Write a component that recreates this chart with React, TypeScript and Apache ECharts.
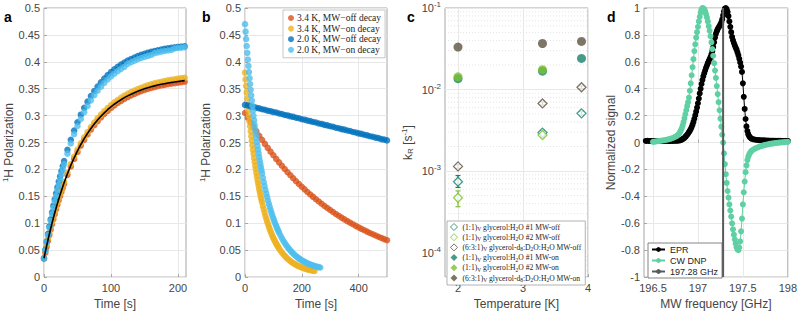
import React, { useEffect, useRef } from "react";
import * as echarts from "echarts";

const FONT = "'Liberation Sans', Arial, Helvetica, sans-serif";
const SERIF = "'Liberation Serif', 'Times New Roman', serif";
const TXT = "#454545";
const BOX = "#a6a6a6";
const GRIDC = "#e8e8e8";

const C_ORANGE = "#D95319";
const C_YELLOW = "#EDB120";
const C_BLUE = "#0072BD";
const C_LBLUE = "#4DBEEE";
const C_TEAL = "#17826c";
const C_LIME = "#7cc12f";
const C_BROWN = "#5d533e";
const C_DNP = "#5fd0a4";

// ---------- panel a: buildup ----------
const aTimes = [0, 2, 4, 6, 8, 10, 12, 14, 16, 18, 20, 22, 24, 26, 28, 30, 35, 40, 45, 50, 55, 60, 65, 70, 75, 80, 85, 90, 95, 100, 105, 110, 115, 120, 125, 130, 135, 140, 145, 150, 155, 160, 165, 170, 175, 180, 185, 190, 195, 200, 205, 210];
const aOff34 = [0.034, 0.0452, 0.0565, 0.0675, 0.0781, 0.0884, 0.0983, 0.1078, 0.117, 0.1259, 0.1345, 0.1428, 0.1507, 0.1584, 0.1659, 0.1731, 0.19, 0.2054, 0.2196, 0.2325, 0.2443, 0.255, 0.2649, 0.274, 0.2822, 0.2898, 0.2967, 0.303, 0.3088, 0.3141, 0.319, 0.3234, 0.3274, 0.3312, 0.3345, 0.3376, 0.3404, 0.343, 0.3455, 0.3476, 0.3496, 0.3514, 0.3531, 0.3546, 0.356, 0.3572, 0.3584, 0.3594, 0.3604, 0.3613, 0.3621, 0.3629];
const aOn34 = [0.036, 0.0489, 0.0603, 0.0713, 0.082, 0.0923, 0.1022, 0.1118, 0.121, 0.1299, 0.1385, 0.1468, 0.1548, 0.1625, 0.17, 0.1772, 0.1944, 0.2098, 0.224, 0.2369, 0.2488, 0.2597, 0.2697, 0.2789, 0.2872, 0.2949, 0.3019, 0.3083, 0.3142, 0.3196, 0.3246, 0.3291, 0.3332, 0.3371, 0.3405, 0.3437, 0.3466, 0.3493, 0.3519, 0.3541, 0.3562, 0.3581, 0.3599, 0.3615, 0.363, 0.3643, 0.3656, 0.3667, 0.3677, 0.3687, 0.3696, 0.3704];
const aOff20 = [0.035, 0.0507, 0.0658, 0.0802, 0.0942, 0.1075, 0.1204, 0.1327, 0.1445, 0.1559, 0.1669, 0.1774, 0.1874, 0.1972, 0.2065, 0.2155, 0.2364, 0.2553, 0.2724, 0.2878, 0.3018, 0.3145, 0.326, 0.3364, 0.3458, 0.3542, 0.3619, 0.3689, 0.3752, 0.3809, 0.386, 0.3907, 0.3949, 0.3987, 0.4022, 0.4053, 0.4081, 0.4107, 0.413, 0.4151, 0.417, 0.4187, 0.4202, 0.4216, 0.4229, 0.4241, 0.4251, 0.426, 0.4269, 0.4277, 0.4284, 0.429];
const aOn20 = [0.035, 0.0497, 0.0648, 0.0782, 0.0922, 0.1045, 0.1174, 0.1287, 0.1405, 0.1509, 0.1619, 0.1714, 0.1814, 0.1912, 0.2005, 0.2095, 0.2294, 0.2483, 0.2654, 0.2808, 0.2938, 0.3065, 0.318, 0.3284, 0.3378, 0.3462, 0.3539, 0.3609, 0.3672, 0.3729, 0.378, 0.3827, 0.3869, 0.3907, 0.3962, 0.3993, 0.4021, 0.4047, 0.407, 0.4091, 0.411, 0.4127, 0.4162, 0.4176, 0.4189, 0.4201, 0.4211, 0.422, 0.4249, 0.4257, 0.4264, 0.427];
const aFit34 = [0.035, 0.0469, 0.0583, 0.0693, 0.08, 0.0903, 0.1002, 0.1098, 0.119, 0.1279, 0.1365, 0.1448, 0.1528, 0.1605, 0.168, 0.1752, 0.1921, 0.2075, 0.2217, 0.2346, 0.2464, 0.2572, 0.2671, 0.2762, 0.2844, 0.292, 0.2989, 0.3052, 0.311, 0.3163, 0.3212, 0.3256, 0.3296, 0.3334, 0.3367, 0.3398, 0.3426, 0.3452, 0.3477, 0.3498, 0.3518, 0.3536, 0.3553, 0.3568, 0.3582, 0.3594, 0.3606, 0.3616, 0.3626, 0.3635, 0.3643, 0.3651];

// ---------- panel b: decay ----------
const bOnTimes = [0, 2, 4, 6, 8, 10, 12, 14, 16, 18, 20, 22, 24, 26, 28, 30, 32, 34, 36, 38, 40, 42, 44, 46, 48, 50, 52, 54, 56, 58, 60, 63, 66, 69, 72, 75, 78, 81, 84, 87, 90, 93, 96, 99, 102, 105, 108, 111, 114, 117, 120, 125, 130, 135, 140, 145, 150, 155, 160, 165, 170, 175, 180, 185, 190, 195, 200, 205, 210, 215, 220, 225, 230, 235, 240, 245, 250, 255, 260, 265];
const bOn34 = [0.38, 0.3673, 0.3551, 0.3432, 0.3318, 0.3208, 0.3101, 0.2998, 0.2898, 0.2802, 0.2709, 0.2619, 0.2533, 0.2449, 0.2368, 0.229, 0.2214, 0.2141, 0.2071, 0.2002, 0.1936, 0.1873, 0.1811, 0.1752, 0.1695, 0.1639, 0.1586, 0.1534, 0.1484, 0.1436, 0.1389, 0.1322, 0.1259, 0.1198, 0.1141, 0.1086, 0.1035, 0.0985, 0.0939, 0.0894, 0.0853, 0.0812, 0.0774, 0.0738, 0.0704, 0.0672, 0.0641, 0.0612, 0.0584, 0.0557, 0.0532, 0.0493, 0.0458, 0.0425, 0.0395, 0.0367, 0.0342, 0.0318, 0.0297, 0.0277, 0.0259, 0.0243, 0.0228, 0.0214, 0.0201, 0.019, 0.0179, 0.0169, 0.016, 0.0152, 0.0144, 0.0137, 0.0131, 0.0125, 0.012, 0.0115];
const bOn20 = [0.47, 0.4561, 0.4425, 0.4294, 0.4167, 0.4044, 0.3924, 0.3809, 0.3696, 0.3587, 0.3481, 0.3379, 0.328, 0.3183, 0.309, 0.2999, 0.2912, 0.2826, 0.2744, 0.2664, 0.2586, 0.2511, 0.2438, 0.2367, 0.2298, 0.2232, 0.2167, 0.2104, 0.2044, 0.1985, 0.1928, 0.1845, 0.1767, 0.1691, 0.1619, 0.1551, 0.1486, 0.1423, 0.1363, 0.1306, 0.1252, 0.12, 0.115, 0.1103, 0.1058, 0.1014, 0.0973, 0.0934, 0.0896, 0.086, 0.0826, 0.0773, 0.0722, 0.0676, 0.0634, 0.0594, 0.0558, 0.0524, 0.0492, 0.0463, 0.0436, 0.0411, 0.0388, 0.0367, 0.0347, 0.0329, 0.0312, 0.0296, 0.0282, 0.0268, 0.0256, 0.0244, 0.0234, 0.0224, 0.0215, 0.0206, 0.0198, 0.0191, 0.0184, 0.0178];
const bOffTimes = [0, 10, 20, 30, 40, 50, 60, 70, 80, 90, 100, 110, 120, 130, 140, 150, 160, 170, 180, 190, 200, 210, 220, 230, 240, 250, 260, 270, 280, 290, 300, 310, 320, 330, 340, 350, 360, 370, 380, 390, 400, 410, 420, 430, 440, 450, 460, 470, 480, 490, 500];
const bOff34 = [0.305, 0.296, 0.2873, 0.2789, 0.2707, 0.2627, 0.255, 0.2475, 0.2402, 0.2331, 0.2263, 0.2196, 0.2132, 0.2069, 0.2008, 0.1949, 0.1892, 0.1836, 0.1782, 0.173, 0.1679, 0.163, 0.1582, 0.1535, 0.149, 0.1446, 0.1404, 0.1362, 0.1322, 0.1283, 0.1246, 0.1209, 0.1173, 0.1139, 0.1105, 0.1073, 0.1041, 0.1011, 0.0981, 0.0952, 0.0924, 0.0897, 0.0871, 0.0845, 0.082, 0.0796, 0.0773, 0.075, 0.0728, 0.0706, 0.0686];
const bOff20 = [0.32, 0.319, 0.3172, 0.3162, 0.3145, 0.3136, 0.3119, 0.311, 0.3092, 0.3083, 0.3066, 0.3058, 0.304, 0.303, 0.3013, 0.3004, 0.2987, 0.2978, 0.296, 0.2951, 0.2934, 0.2925, 0.2908, 0.2898, 0.2881, 0.2872, 0.2855, 0.2846, 0.2828, 0.2819, 0.2802, 0.2793, 0.2776, 0.2766, 0.2749, 0.274, 0.2723, 0.2714, 0.2696, 0.2687, 0.267, 0.2661, 0.2644, 0.2634, 0.2617, 0.2608, 0.2591, 0.2582, 0.2564, 0.2555, 0.254];
const B_NAMES = ["3.4 K, MW\u2212off decay", "3.4 K, MW\u2212on decay", "2.0 K, MW\u2212off decay", "2.0 K, MW\u2212on decay"];

// ---------- panel c: rates ----------
const cTemps = [2.0, 3.3, 3.9];
const cOff1 = [7.4e-4, 2.96e-3, 5.1e-3];
const cOff1Lo = [6.3e-4, 2.78e-3, 4.85e-3];
const cOff1Hi = [8.8e-4, 3.15e-3, 5.4e-3];
const cOff2 = [4.7e-4, 2.77e-3];
const cOff2Lo = [3.65e-4, 2.6e-3];
const cOff2Hi = [5.7e-4, 2.95e-3];
const cOff3 = [1.14e-3, 6.75e-3, 1.066e-2];
const cOff3Lo = [1.08e-3, 6.45e-3, 1.02e-2];
const cOff3Hi = [1.2e-3, 7.05e-3, 1.11e-2];
const cOn1 = [1.36e-2, 1.68e-2, 2.41e-2];
const cOn2 = [1.43e-2, 1.75e-2];
const cOn3 = [3.32e-2, 3.67e-2, 3.89e-2];
const cMinorGrid = [6e-5, 7e-5, 8e-5, 9e-5, 2e-4, 3e-4, 4e-4, 5e-4, 6e-4, 7e-4, 8e-4, 9e-4, 2e-3, 3e-3, 4e-3, 5e-3, 6e-3, 7e-3, 8e-3, 9e-3, 2e-2, 3e-2, 4e-2, 5e-2, 6e-2, 7e-2, 8e-2, 9e-2];
const C_NAMES = [
  "(1:1)V glycerol:H2O #1 MW-off",
  "(1:1)V glycerol:H2O #2 MW-off",
  "(6:3:1)V glycerol-d8:D2O:H2O MW-off",
  "(1:1)V glycerol:H2O #1 MW-on",
  "(1:1)V glycerol:H2O #2 MW-on",
  "(6:3:1)V glycerol-d8:D2O:H2O MW-on",
];
const C_RICH = [
  "(1:1){s|V} glycerol:H{s|2}O #1 MW-off",
  "(1:1){s|V} glycerol:H{s|2}O #2 MW-off",
  "(6:3:1){s|V} glycerol-d{s|8}:D{s|2}O:H{s|2}O MW-off",
  "(1:1){s|V} glycerol:H{s|2}O #1 MW-on",
  "(1:1){s|V} glycerol:H{s|2}O #2 MW-on",
  "(6:3:1){s|V} glycerol-d{s|8}:D{s|2}O:H{s|2}O MW-on",
];

// ---------- panel d: spectra ----------
const dEpr = [
  [196.42, 0.012], [196.44, 0.013], [196.46, 0.012], [196.48, 0.011], [196.5, 0.012], [196.52, 0.012], [196.54, 0.011], [196.56, 0.012], [196.58, 0.012], [196.6, 0.011], [196.62, 0.012], [196.64, 0.012], [196.66, 0.012], [196.68, 0.011], [196.7, 0.012], [196.72, 0.012], [196.74, 0.013], [196.76, 0.013], [196.78, 0.014],
  [196.8, 0.016], [196.81, 0.019], [196.82, 0.022], [196.83, 0.026], [196.84, 0.03], [196.85, 0.035], [196.86, 0.042], [196.87, 0.05], [196.88, 0.058], [196.89, 0.067], [196.9, 0.077], [196.91, 0.088], [196.92, 0.1], [196.93, 0.115], [196.94, 0.133], [196.95, 0.153], [196.96, 0.177], [196.97, 0.203], [196.98, 0.23], [196.99, 0.26],
  [197.0, 0.292], [197.01, 0.327], [197.02, 0.365], [197.03, 0.4], [197.04, 0.435], [197.05, 0.465], [197.06, 0.492], [197.07, 0.515], [197.08, 0.535], [197.09, 0.555], [197.1, 0.572], [197.11, 0.59], [197.12, 0.605], [197.13, 0.62], [197.14, 0.635], [197.15, 0.655], [197.16, 0.68], [197.17, 0.71], [197.18, 0.745], [197.19, 0.78],
  [197.2, 0.808], [197.21, 0.828], [197.22, 0.843], [197.23, 0.855], [197.24, 0.866], [197.25, 0.878], [197.26, 0.893], [197.27, 0.915], [197.28, 0.945], [197.29, 0.975], [197.3, 0.995], [197.31, 1.0], [197.32, 0.99], [197.33, 0.97], [197.34, 0.94], [197.35, 0.9], [197.36, 0.86], [197.37, 0.82], [197.38, 0.785], [197.39, 0.76],
  [197.4, 0.74], [197.41, 0.722], [197.42, 0.705], [197.43, 0.69], [197.44, 0.67], [197.45, 0.648], [197.46, 0.622], [197.47, 0.595], [197.48, 0.565], [197.49, 0.525], [197.5, 0.44], [197.51, 0.34], [197.52, 0.25], [197.53, 0.175], [197.54, 0.12], [197.55, 0.085], [197.56, 0.062], [197.57, 0.047], [197.58, 0.038], [197.59, 0.032], [197.6, 0.028],
  [197.62, 0.024], [197.64, 0.021], [197.66, 0.019], [197.68, 0.018], [197.7, 0.017], [197.72, 0.016], [197.74, 0.016], [197.76, 0.015], [197.78, 0.015], [197.8, 0.014], [197.82, 0.014], [197.84, 0.014], [197.86, 0.013], [197.88, 0.013], [197.9, 0.013], [197.92, 0.013], [197.94, 0.012], [197.96, 0.012], [197.98, 0.012], [198.0, 0.012],
];
const dDnp = [
  [196.5, 0.005], [196.52, 0.007], [196.54, 0.009], [196.56, 0.011], [196.58, 0.013], [196.6, 0.015], [196.62, 0.017], [196.64, 0.019], [196.66, 0.022], [196.68, 0.025], [196.7, 0.029], [196.72, 0.034], [196.74, 0.04], [196.76, 0.047],
  [196.77, 0.052], [196.78, 0.058], [196.79, 0.066], [196.8, 0.077], [196.81, 0.09], [196.82, 0.106], [196.83, 0.127], [196.84, 0.152], [196.85, 0.18], [196.86, 0.21], [196.87, 0.24], [196.88, 0.27], [196.89, 0.3], [196.9, 0.335], [196.91, 0.385], [196.92, 0.44], [196.93, 0.5], [196.94, 0.56], [196.95, 0.62], [196.96, 0.68], [196.97, 0.73], [196.98, 0.78], [196.99, 0.82],
  [197.0, 0.86], [197.01, 0.9], [197.02, 0.935], [197.03, 0.965], [197.04, 0.988], [197.05, 1.0], [197.06, 0.998], [197.07, 0.99], [197.08, 0.975], [197.09, 0.955], [197.1, 0.93], [197.11, 0.9], [197.12, 0.865], [197.13, 0.83], [197.14, 0.79], [197.15, 0.745], [197.16, 0.695], [197.17, 0.645], [197.18, 0.59], [197.19, 0.535],
  [197.2, 0.48], [197.21, 0.42], [197.22, 0.36], [197.23, 0.3], [197.24, 0.24], [197.25, 0.178], [197.26, 0.118], [197.27, 0.058], [197.28, 0.0], [197.29, -0.08], [197.3, -0.16], [197.31, -0.235], [197.32, -0.3], [197.33, -0.36], [197.34, -0.41], [197.35, -0.46], [197.36, -0.505], [197.37, -0.55], [197.38, -0.6], [197.39, -0.645],
  [197.4, -0.685], [197.41, -0.72], [197.42, -0.752], [197.43, -0.778], [197.44, -0.795], [197.45, -0.8], [197.46, -0.78], [197.47, -0.735], [197.48, -0.66], [197.49, -0.565], [197.5, -0.46], [197.51, -0.37], [197.52, -0.29], [197.53, -0.22], [197.54, -0.17], [197.55, -0.13], [197.56, -0.105], [197.57, -0.088], [197.58, -0.076], [197.59, -0.067], [197.6, -0.06],
  [197.62, -0.05], [197.64, -0.043], [197.66, -0.037], [197.68, -0.032], [197.7, -0.027], [197.72, -0.023], [197.74, -0.019], [197.76, -0.016], [197.78, -0.013], [197.8, -0.01], [197.82, -0.008], [197.84, -0.006], [197.86, -0.004], [197.88, -0.002], [197.9, 0.0], [197.92, 0.001], [197.94, 0.002], [197.96, 0.003], [197.98, 0.004], [198.0, 0.005],
];
const dMarkerFreq = 197.28;
const D_NAMES = ["EPR", "CW DNP", "197.28 GHz"];

const zip = (xs: number[], ys: number[]) => ys.map((y, i) => [xs[i], y]);

const richSup = { fontSize: 8, fontFamily: FONT, fontWeight: "normal", color: TXT, padding: [0, 0, 7, 0] };
const richSub = { fontSize: 8, fontFamily: FONT, fontWeight: "normal", color: TXT, padding: [6, 0, 0, 0] };
const NAME_STYLE = { fontFamily: FONT, fontSize: 12, fontWeight: "normal", color: TXT, rich: { sup: richSup, sub: richSub } };

function xAx(gridIndex: number, min: number, max: number, ticks: number[], name: string) {
  return {
    type: "value", gridIndex, min, max, name, nameLocation: "middle", nameGap: 18,
    nameTextStyle: NAME_STYLE,
    axisLine: { show: false },
    axisTick: { show: true, inside: true, length: 3, customValues: ticks, lineStyle: { color: BOX } },
    axisLabel: { customValues: ticks, fontFamily: FONT, fontSize: 11, color: TXT, margin: 5 },
    splitLine: { show: true, lineStyle: { color: GRIDC, width: 1 } },
  };
}
function yAx(gridIndex: number, min: number, max: number, interval: number, name: string, gap: number) {
  return {
    type: "value", gridIndex, min, max, interval, name, nameLocation: "middle", nameGap: gap,
    nameTextStyle: NAME_STYLE,
    axisLine: { show: false },
    axisTick: { show: true, inside: true, length: 3, lineStyle: { color: BOX } },
    axisLabel: { fontFamily: FONT, fontSize: 11, color: TXT, margin: 4 },
    splitLine: { show: true, lineStyle: { color: GRIDC, width: 1 } },
  };
}

function errSeries(name: string, lo: number[], hi: number[], color: string) {
  return {
    type: "custom", name, xAxisIndex: 2, yAxisIndex: 2, z: 3,
    data: lo.map((l, i) => [cTemps[i], l, hi[i]]),
    encode: { x: 0, y: [1, 2] },
    renderItem: (params: any, api: any) => {
      const x = api.value(0);
      const p1 = api.coord([x, api.value(1)]);
      const p2 = api.coord([x, api.value(2)]);
      const w = 2.5;
      const st = { stroke: color, lineWidth: 1.2 };
      return {
        type: "group",
        children: [
          { type: "line", shape: { x1: p1[0], y1: p1[1], x2: p2[0], y2: p2[1] }, style: st },
          { type: "line", shape: { x1: p1[0] - w, y1: p1[1], x2: p1[0] + w, y2: p1[1] }, style: st },
          { type: "line", shape: { x1: p2[0] - w, y1: p2[1], x2: p2[0] + w, y2: p2[1] }, style: st },
        ],
      };
    },
  };
}

function minorGridSeries() {
  return {
    type: "custom", name: "minor grid", xAxisIndex: 2, yAxisIndex: 2, z: 0, silent: true,
    data: cMinorGrid.map((v) => [1.8, v]),
    encode: { x: 0, y: 1 },
    renderItem: (params: any, api: any) => {
      const v = api.value(1);
      const p1 = api.coord([1.8, v]);
      const p2 = api.coord([4, v]);
      return {
        type: "line",
        shape: { x1: p1[0], y1: p1[1], x2: p2[0], y2: p2[1] },
        style: { stroke: "#dedede", lineWidth: 0.8, lineDash: [1, 2] },
      };
    },
  };
}

function buildOption() {
  const grids = [
    { left: 43, top: 8, width: 143, height: 272 },
    { left: 245, top: 8, width: 142, height: 272 },
    { left: 445, top: 8, width: 143, height: 272 },
    { left: 644, top: 8, width: 152, height: 272 },
  ].map((g) => ({ ...g, show: true, borderColor: BOX, borderWidth: 1, backgroundColor: "#fff" }));

  const logY = {
    type: "log", gridIndex: 2, min: 5e-5, max: 0.1, logBase: 10,
    name: "k{sub|R} [s{sup|-1}]", nameLocation: "middle", nameGap: 30,
    nameTextStyle: NAME_STYLE,
    axisLine: { show: false },
    axisTick: { show: false },
    axisLabel: {
      fontFamily: FONT, fontSize: 11, color: TXT, margin: 4,
      formatter: (v: number) => {
        const e = Math.log10(v);
        const r = Math.round(e);
        return Math.abs(e - r) < 1e-6 ? `10{sup|${r}}` : "";
      },
      rich: { sup: richSup },
    },
    splitLine: { show: true, lineStyle: { color: GRIDC, width: 1 } },
  };

  const scat = (name: string, xi: number, data: any[], color: string, size = 6.5, extra: any = {}) => ({
    type: "scatter", name, xAxisIndex: xi, yAxisIndex: xi, data, symbolSize: size,
    itemStyle: { color }, ...extra,
  });

  const series: any[] = [
    // a
    scat("a 3.4 K MW-off", 0, zip(aTimes, aOff34), C_ORANGE),
    scat("a 3.4 K MW-on", 0, zip(aTimes, aOn34), C_YELLOW),
    scat("a 2.0 K MW-off", 0, zip(aTimes, aOff20), C_BLUE),
    scat("a 2.0 K MW-on", 0, zip(aTimes, aOn20), C_LBLUE),
    {
      type: "line", name: "a fit", xAxisIndex: 0, yAxisIndex: 0, data: zip(aTimes, aFit34),
      symbol: "none", smooth: false, lineStyle: { color: "#000", width: 1.6 }, itemStyle: { color: "#000" }, z: 5,
    },
    // b
    scat(B_NAMES[0], 1, zip(bOffTimes, bOff34), C_ORANGE),
    scat(B_NAMES[1], 1, zip(bOnTimes, bOn34), C_YELLOW),
    scat(B_NAMES[2], 1, zip(bOffTimes, bOff20), C_BLUE),
    scat(B_NAMES[3], 1, zip(bOnTimes, bOn20), C_LBLUE),
    // c
    minorGridSeries(),
    errSeries("err1", cOff1Lo, cOff1Hi, C_TEAL),
    errSeries("err2", cOff2Lo, cOff2Hi, C_LIME),
    errSeries("err3", cOff3Lo, cOff3Hi, C_BROWN),
    scat(C_NAMES[0], 2, zip(cTemps, cOff1), "#fff", 9, {
      symbol: "diamond", itemStyle: { color: "#fff", borderColor: C_TEAL, borderWidth: 1.3 }, z: 4,
    }),
    scat(C_NAMES[1], 2, zip(cTemps, cOff2), "#fff", 9, {
      symbol: "diamond", itemStyle: { color: "#fff", borderColor: C_LIME, borderWidth: 1.3 }, z: 4,
    }),
    scat(C_NAMES[2], 2, zip(cTemps, cOff3), "#fff", 9, {
      symbol: "diamond", itemStyle: { color: "#fff", borderColor: C_BROWN, borderWidth: 1.3 }, z: 4,
    }),
    scat(C_NAMES[3], 2, zip(cTemps, cOn1), C_TEAL, 9, { z: 4 }),
    scat(C_NAMES[4], 2, zip(cTemps, cOn2), C_LIME, 9, { z: 4 }),
    scat(C_NAMES[5], 2, zip(cTemps, cOn3), C_BROWN, 9, { z: 4 }),
    // d
    {
      type: "line", name: D_NAMES[0], xAxisIndex: 3, yAxisIndex: 3, data: dEpr,
      symbol: "circle", symbolSize: 6, showSymbol: true,
      lineStyle: { color: "#000", width: 1 }, itemStyle: { color: "#000" },
    },
    {
      type: "line", name: D_NAMES[1], xAxisIndex: 3, yAxisIndex: 3, data: dDnp,
      symbol: "circle", symbolSize: 6, showSymbol: true,
      lineStyle: { color: C_DNP, width: 1 }, itemStyle: { color: C_DNP },
    },
    {
      type: "line", name: D_NAMES[2], xAxisIndex: 3, yAxisIndex: 3,
      data: [[dMarkerFreq, -1], [dMarkerFreq, 1]], symbol: "none",
      lineStyle: { color: "#5a5a5a", width: 2 }, itemStyle: { color: "#5a5a5a" }, z: 6,
    },
  ];

  return {
    animation: false,
    backgroundColor: "#fff",
    textStyle: { fontFamily: FONT },
    grid: grids,
    xAxis: [
      xAx(0, 0, 212, [0, 100, 200], "Time [s]"),
      xAx(1, 0, 500, [0, 200, 400], "Time [s]"),
      xAx(2, 1.8, 4, [2, 3, 4], "Temperature [K]"),
      xAx(3, 196.4, 198, [196.5, 197, 197.5, 198], "MW frequency [GHz]"),
    ],
    yAxis: [
      yAx(0, 0, 0.5, 0.05, "{sup|1}H Polarization", 28),
      yAx(1, 0, 0.5, 0.05, "{sup|1}H Polarization", 32),
      logY,
      yAx(3, -1, 1, 0.2, "Normalized signal", 20),
    ],
    legend: [
      {
        data: B_NAMES.map((n) => ({ name: n, icon: "circle" })),
        left: 283, top: 10, orient: "vertical", itemWidth: 6, itemHeight: 6, itemGap: 0.6,
        padding: [3, 4, 3, 5], backgroundColor: "#fff", borderColor: "#b8b8b8", borderWidth: 0.8,
        textStyle: { fontFamily: SERIF, fontSize: 9.5, color: "#222", padding: [0, 0, 0, -2] },
        selectedMode: false,
      },
      {
        data: C_NAMES.map((n, i) => ({
          name: n, icon: "diamond",
          itemStyle: i < 3
            ? { color: "#fff", borderColor: [C_TEAL, C_LIME, C_BROWN][i], borderWidth: 1 }
            : { color: [C_TEAL, C_LIME, C_BROWN][i - 3] },
        })),
        formatter: (name: string) => C_RICH[C_NAMES.indexOf(name)] || name,
        left: 447, top: 221, orient: "vertical", itemWidth: 7, itemHeight: 7, itemGap: 1.2,
        padding: [2, 4, 2, 3], backgroundColor: "#fff", borderColor: "#a0a0a0", borderWidth: 0.8,
        textStyle: {
          fontFamily: SERIF, fontSize: 7.6, color: "#222",
          rich: { s: { fontFamily: SERIF, fontSize: 5.5, color: "#222", padding: [4, 0, 0, 0] } },
        },
        selectedMode: false,
      },
      {
        data: D_NAMES,
        left: 648, top: 243, orient: "vertical", itemWidth: 13, itemHeight: 6, itemGap: 2,
        padding: [2, 4, 2, 3], backgroundColor: "#fff", borderColor: "#666", borderWidth: 0.8,
        textStyle: { fontFamily: FONT, fontSize: 9, color: "#222" },
        selectedMode: false,
      },
    ],
    graphic: [
      { type: "text", left: 4, top: 10, style: { text: "a", font: `bold 14px ${FONT}`, fill: "#000" } },
      { type: "text", left: 202, top: 10, style: { text: "b", font: `bold 14px ${FONT}`, fill: "#000" } },
      { type: "text", left: 407, top: 10, style: { text: "c", font: `bold 14px ${FONT}`, fill: "#000" } },
      { type: "text", left: 607, top: 10, style: { text: "d", font: `bold 14px ${FONT}`, fill: "#000" } },
    ],
    series,
  };
}

export default function App() {
  const ref = useRef<HTMLDivElement>(null);
  useEffect(() => {
    if (!ref.current) return;
    const chart = echarts.init(ref.current, null, { renderer: "svg" });
    chart.setOption(buildOption() as any);
    return () => chart.dispose();
  }, []);
  return (
    <div
      ref={ref}
      style={{ position: "fixed", left: 0, top: 0, width: 800, height: 315, background: "#fff" }}
    />
  );
}
